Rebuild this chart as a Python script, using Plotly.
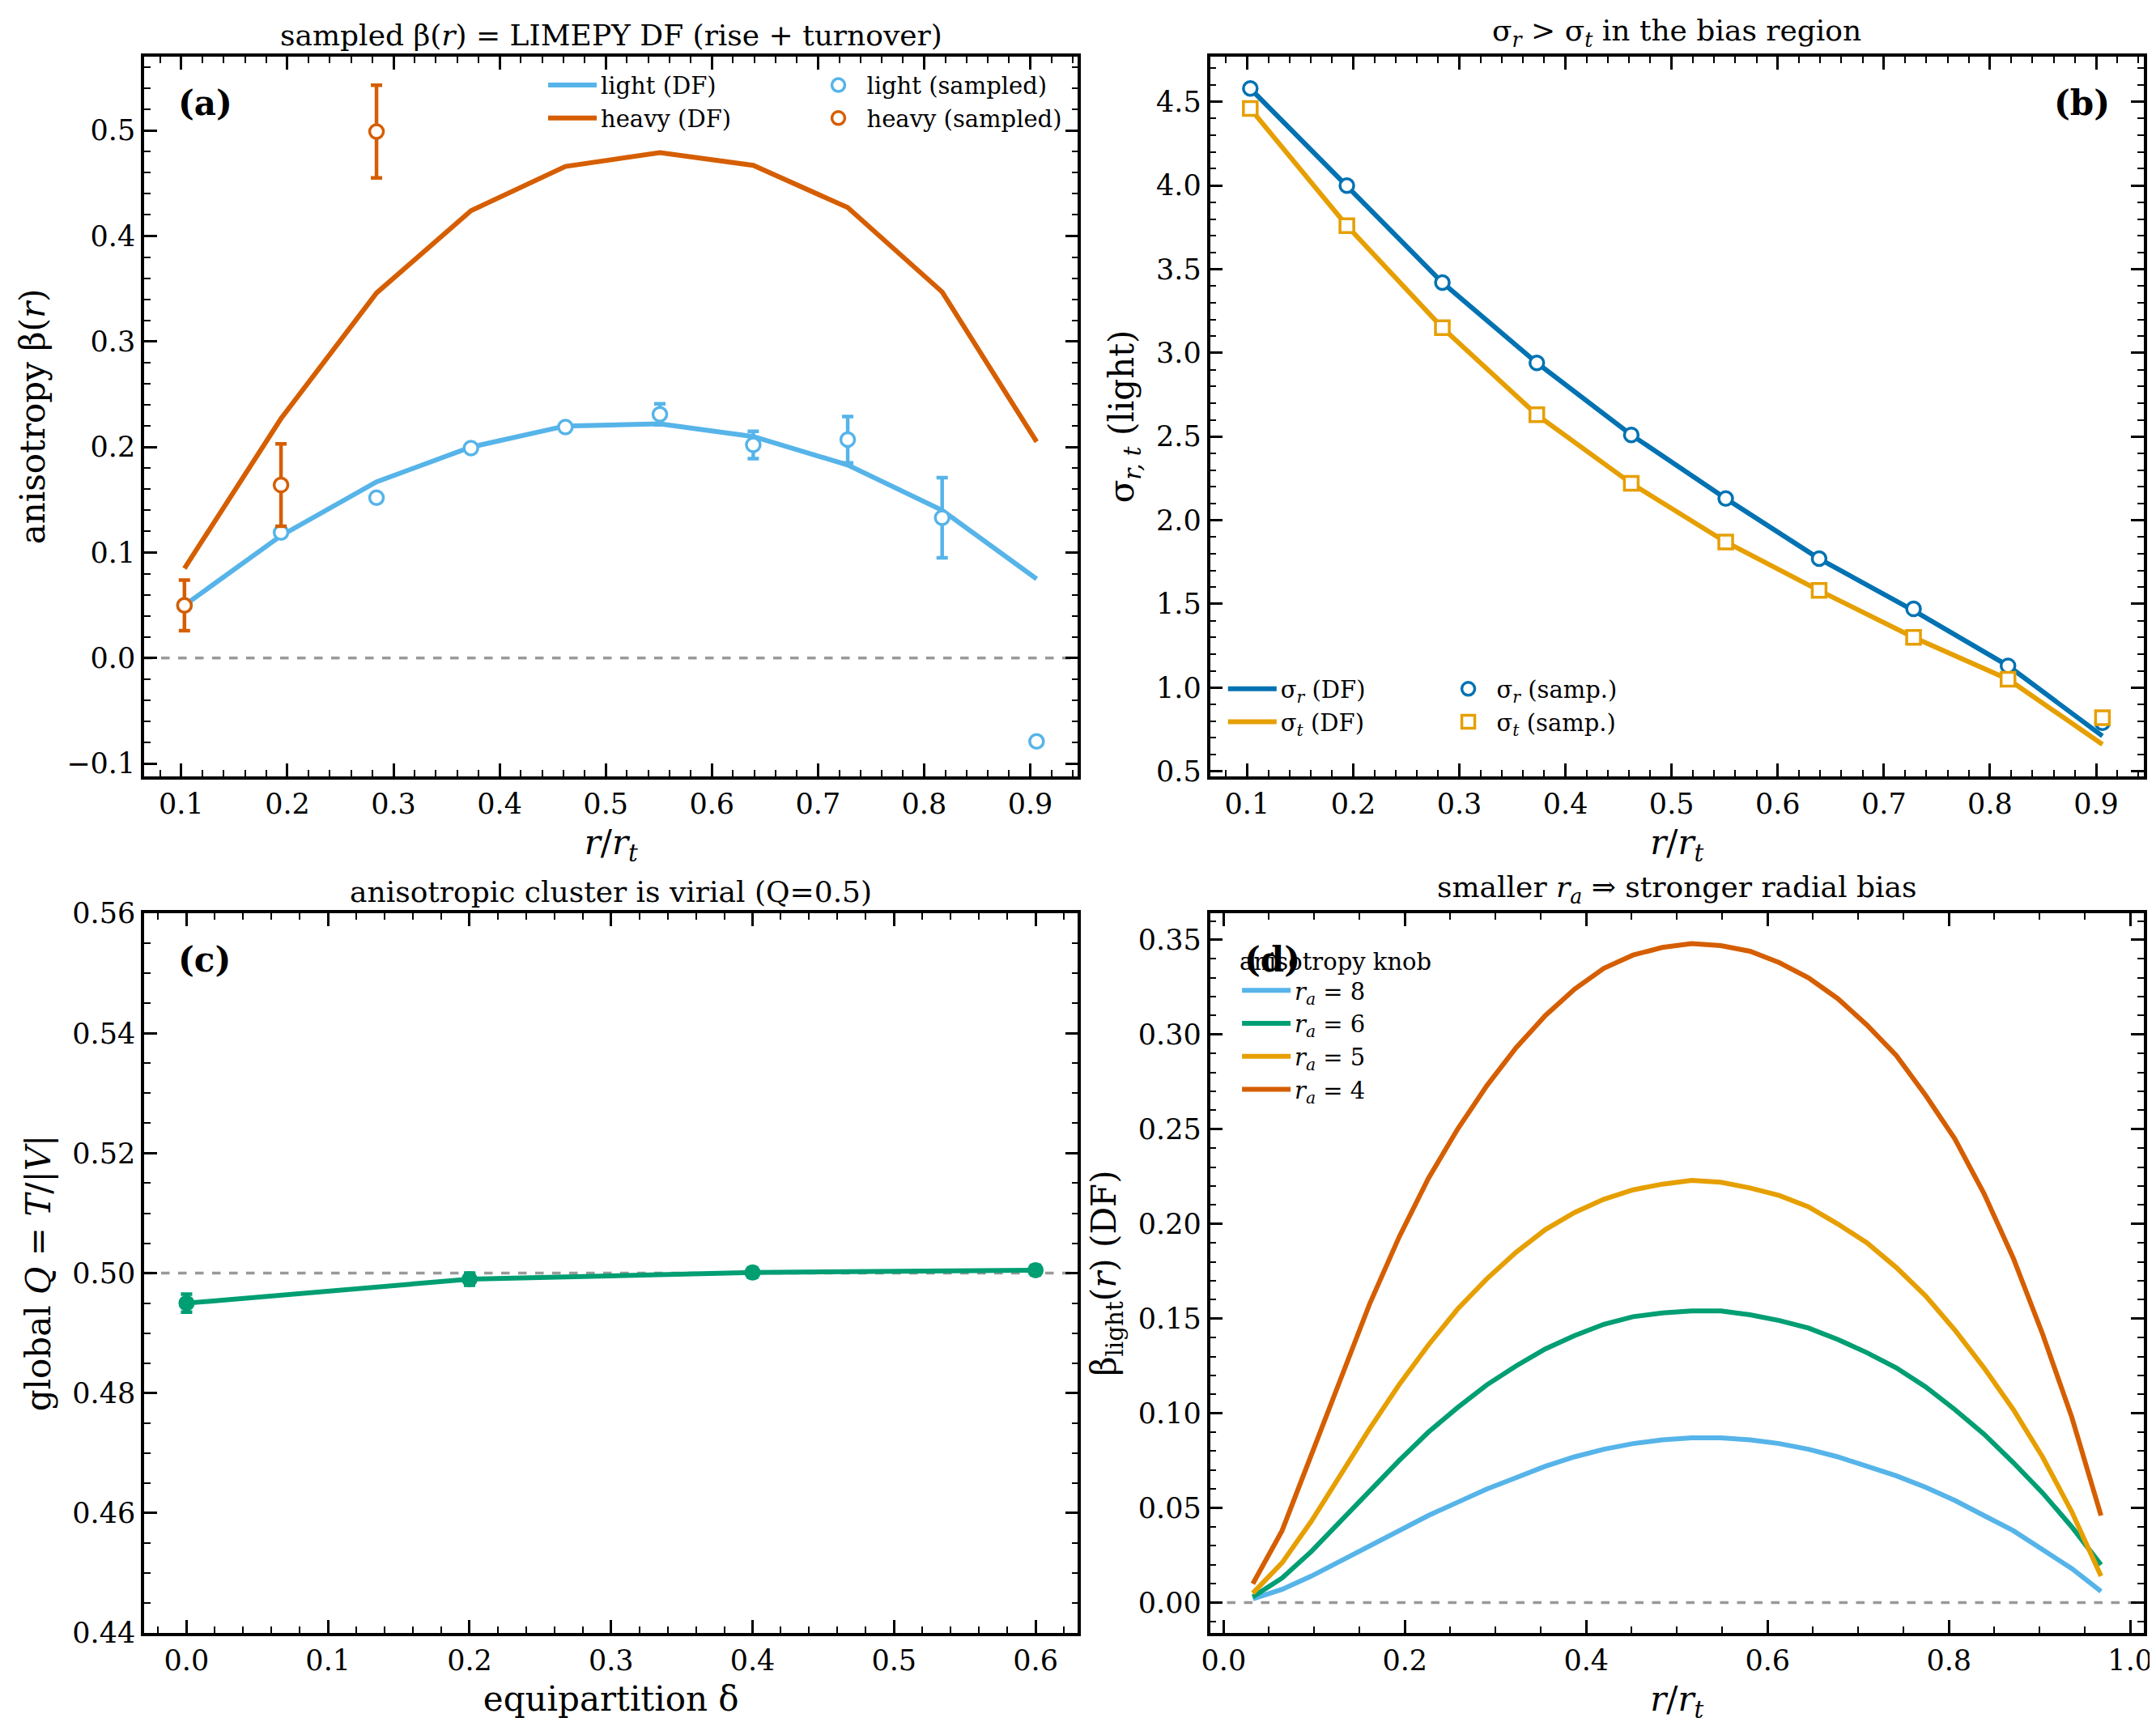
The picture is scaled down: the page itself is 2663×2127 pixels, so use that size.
import plotly.graph_objects as go
from plotly.subplots import make_subplots

LIGHT = "#56B4E9"
HEAVY = "#D55E00"
SR = "#0072B2"
ST = "#E69F00"
GREEN = "#009E73"

# panel (a) / (b) radial bins
r_bins = [0.103, 0.194, 0.284, 0.373, 0.462, 0.551, 0.639, 0.728, 0.817, 0.906]
beta_light_df = [0.050, 0.116, 0.167, 0.200, 0.220, 0.222, 0.210, 0.183, 0.140, 0.075]
beta_heavy_df = [0.085, 0.227, 0.346, 0.424, 0.466, 0.479, 0.467, 0.427, 0.347, 0.205]
beta_light_samp = [0.050, 0.119, 0.152, 0.199, 0.219, 0.231, 0.202, 0.207, 0.133, -0.079]
beta_light_err = [0.003, 0.004, 0.003, 0.003, 0.003, 0.010, 0.013, 0.022, 0.038, 0.003]
r_heavy_samp = [0.103, 0.194, 0.284]
beta_heavy_samp = [0.050, 0.164, 0.499]
beta_heavy_err = [0.024, 0.039, 0.044]

sig_r_df = [4.58, 4.00, 3.42, 2.94, 2.51, 2.13, 1.77, 1.46, 1.13, 0.71]
sig_t_df = [4.46, 3.76, 3.15, 2.63, 2.22, 1.87, 1.58, 1.30, 1.05, 0.66]
sig_r_samp = [4.58, 4.00, 3.42, 2.94, 2.51, 2.13, 1.77, 1.47, 1.13, 0.79]
sig_t_samp = [4.46, 3.76, 3.15, 2.63, 2.22, 1.87, 1.58, 1.30, 1.05, 0.82]

# panel (c)
delta = [0.0, 0.2, 0.4, 0.6]
Q = [0.495, 0.499, 0.5001, 0.5005]
Q_err = [0.0015, 0.0010, 0.0008, 0.0008]

# panel (d)
r_fine = [i / 31 for i in range(1, 31)]
beta_ra8 = [0.002, 0.007, 0.014, 0.022, 0.030, 0.038, 0.046, 0.053, 0.060, 0.066, 0.072, 0.077, 0.081, 0.084, 0.086,
            0.087, 0.087, 0.086, 0.084, 0.081, 0.077, 0.072, 0.067, 0.061, 0.054, 0.046, 0.038, 0.028, 0.018, 0.006]
beta_ra6 = [0.003, 0.013, 0.027, 0.043, 0.059, 0.075, 0.090, 0.103, 0.115, 0.125, 0.134, 0.141, 0.147, 0.151, 0.153,
            0.154, 0.154, 0.152, 0.149, 0.145, 0.139, 0.132, 0.124, 0.114, 0.102, 0.089, 0.074, 0.058, 0.040, 0.020]
beta_ra5 = [0.005, 0.021, 0.043, 0.068, 0.092, 0.115, 0.136, 0.155, 0.171, 0.185, 0.197, 0.206, 0.213, 0.218, 0.221,
            0.223, 0.222, 0.219, 0.215, 0.209, 0.200, 0.190, 0.177, 0.162, 0.144, 0.124, 0.102, 0.077, 0.048, 0.014]
beta_ra4 = [0.010, 0.038, 0.078, 0.118, 0.158, 0.193, 0.224, 0.250, 0.273, 0.293, 0.310, 0.324, 0.335, 0.342, 0.346,
            0.348, 0.347, 0.344, 0.338, 0.330, 0.319, 0.305, 0.289, 0.268, 0.245, 0.216, 0.182, 0.142, 0.098, 0.046]

FONT = "DejaVu Serif"
LW = 6

fig = make_subplots(rows=2, cols=2, horizontal_spacing=0.066, vertical_spacing=0.087,
                    subplot_titles=["sampled β(<i>r</i>) = LIMEPY DF (rise + turnover)",
                                    "σ<sub><i>r</i></sub> > σ<sub><i>t</i></sub> in the bias region",
                                    "anisotropic cluster is virial (Q=0.5)",
                                    "smaller <i>r<sub>a</sub></i> ⇒ stronger radial bias"])

def open_marker(c, sym="circle"):
    return dict(symbol=sym, size=17, color="white", line=dict(color=c, width=3.5))

# dashed reference lines (drawn first, under data)
for row, col, xs, y0 in [(1, 1, [0.065, 0.945], 0), (2, 1, [-0.03, 0.63], 0.5), (2, 2, [-0.015, 1.015], 0)]:
    fig.add_trace(go.Scatter(x=xs, y=[y0, y0], mode="lines", line=dict(color="#999999", width=3.5, dash="dash"),
                             showlegend=False, hoverinfo="skip"), row, col)

# (a)
fig.add_trace(go.Scatter(x=r_bins, y=beta_light_df, mode="lines", line=dict(color=LIGHT, width=LW),
                         name="light (DF)", legend="legend"), 1, 1)
fig.add_trace(go.Scatter(x=r_bins, y=beta_heavy_df, mode="lines", line=dict(color=HEAVY, width=LW),
                         name="heavy (DF)", legend="legend"), 1, 1)
fig.add_trace(go.Scatter(x=r_bins, y=beta_light_samp, mode="markers", marker=open_marker(LIGHT),
                         error_y=dict(array=beta_light_err, color=LIGHT, thickness=4.5, width=7),
                         name="light (sampled)", legend="legend2"), 1, 1)
fig.add_trace(go.Scatter(x=r_heavy_samp, y=beta_heavy_samp, mode="markers", marker=open_marker(HEAVY),
                         error_y=dict(array=beta_heavy_err, color=HEAVY, thickness=4.5, width=7),
                         name="heavy (sampled)", legend="legend2"), 1, 1)

# (b)
fig.add_trace(go.Scatter(x=r_bins, y=sig_r_df, mode="lines", line=dict(color=SR, width=LW),
                         name="σ<sub><i>r</i></sub> (DF)", legend="legend3"), 1, 2)
fig.add_trace(go.Scatter(x=r_bins, y=sig_t_df, mode="lines", line=dict(color=ST, width=LW),
                         name="σ<sub><i>t</i></sub> (DF)", legend="legend3"), 1, 2)
fig.add_trace(go.Scatter(x=r_bins, y=sig_r_samp, mode="markers", marker=open_marker(SR),
                         error_y=dict(array=[0.01] * 10, color=SR, thickness=3, width=5),
                         name="σ<sub><i>r</i></sub> (samp.)", legend="legend4"), 1, 2)
fig.add_trace(go.Scatter(x=r_bins, y=sig_t_samp, mode="markers", marker=open_marker(ST, "square"),
                         error_y=dict(array=[0.01] * 10, color=ST, thickness=3, width=5),
                         name="σ<sub><i>t</i></sub> (samp.)", legend="legend4"), 1, 2)

# (c)
fig.add_trace(go.Scatter(x=delta, y=Q, mode="lines+markers", line=dict(color=GREEN, width=LW),
                         marker=dict(color=GREEN, size=20),
                         error_y=dict(array=Q_err, color=GREEN, thickness=4.5, width=7),
                         showlegend=False), 2, 1)

# (d)
for ys, c, lab in [(beta_ra8, LIGHT, "8"), (beta_ra6, GREEN, "6"), (beta_ra5, ST, "5"), (beta_ra4, HEAVY, "4")]:
    fig.add_trace(go.Scatter(x=r_fine, y=ys, mode="lines", line=dict(color=c, width=LW),
                             name=f"<i>r<sub>a</sub></i> = {lab}", legend="legend5"), 2, 2)

axis_style = dict(showline=True, linecolor="black", linewidth=3.5, mirror="allticks", ticks="inside",
                  ticklen=16, tickwidth=3, tickcolor="black", showgrid=False, zeroline=False,
                  minor=dict(ticks="inside", ticklen=8, tickwidth=2, tickcolor="black"),
                  tickfont=dict(size=35, family=FONT, color="black"))
fig.update_xaxes(**axis_style)
fig.update_yaxes(**axis_style)

tf = dict(size=42, family=FONT, color="black")
fig.update_xaxes(range=[0.065, 0.945], dtick=0.1, tickformat=".1f",
                 title=dict(text="<i>r</i>/<i>r<sub>t</sub></i>", font=tf), row=1, col=1)
fig.update_yaxes(range=[-0.112, 0.57], dtick=0.1, tickformat=".1f",
                 title=dict(text="anisotropy β(<i>r</i>)", font=tf), row=1, col=1)
fig.update_xaxes(range=[0.065, 0.945], dtick=0.1, tickformat=".1f",
                 title=dict(text="<i>r</i>/<i>r<sub>t</sub></i>", font=tf), row=1, col=2)
fig.update_yaxes(range=[0.47, 4.77], dtick=0.5, tickformat=".1f",
                 title=dict(text="σ<sub><i>r, t</i></sub> (light)", font=tf), row=1, col=2)
fig.update_xaxes(range=[-0.03, 0.63], dtick=0.1, tickformat=".1f",
                 title=dict(text="equipartition δ", font=tf), row=2, col=1)
fig.update_yaxes(range=[0.44, 0.56], dtick=0.02, tickformat=".2f",
                 title=dict(text="global <i>Q</i> = <i>T</i>/|<i>V</i>|", font=tf), row=2, col=1)
fig.update_xaxes(range=[-0.015, 1.015], dtick=0.2, tickformat=".1f",
                 title=dict(text="<i>r</i>/<i>r<sub>t</sub></i>", font=tf), row=2, col=2)
fig.update_yaxes(range=[-0.016, 0.364], dtick=0.05, tickformat=".2f",
                 title=dict(text="β<sub>light</sub>(<i>r</i>) (DF)", font=tf), row=2, col=2)

for a in fig.layout.annotations:
    a.font = dict(size=36, family=FONT, color="black")
    a.yshift = 4

lf = dict(size=29, family=FONT, color="black")
leg = dict(bgcolor="rgba(0,0,0,0)", font=lf, yanchor="top", xanchor="left", itemwidth=60, tracegroupgap=0)
fig.update_layout(
    width=2663, height=2127, template="simple_white", plot_bgcolor="white", paper_bgcolor="white",
    margin=dict(l=170, r=20, t=62, b=118),
    legend=dict(leg, x=0.2, y=0.995),
    legend2=dict(leg, x=0.333, y=0.995),
    legend3=dict(leg, x=0.54, y=0.612),
    legend4=dict(leg, x=0.648, y=0.612),
    legend5=dict(leg, x=0.547, y=0.44, title=dict(text="anisotropy knob", font=lf)),
)

for xr, yr, txt, x, xa in [("x", "y", "<b>(a)</b>", 0.035, "left"), ("x2", "y2", "<b>(b)</b>", 0.965, "right"),
                           ("x3", "y3", "<b>(c)</b>", 0.035, "left"), ("x4", "y4", "<b>(d)</b>", 0.035, "left")]:
    fig.add_annotation(xref=f"{xr} domain", yref=f"{yr} domain", x=x, y=0.965, text=txt, showarrow=False,
                       xanchor=xa, yanchor="top", font=dict(size=42, family=FONT, color="black"))

fig.write_html("out.html")
